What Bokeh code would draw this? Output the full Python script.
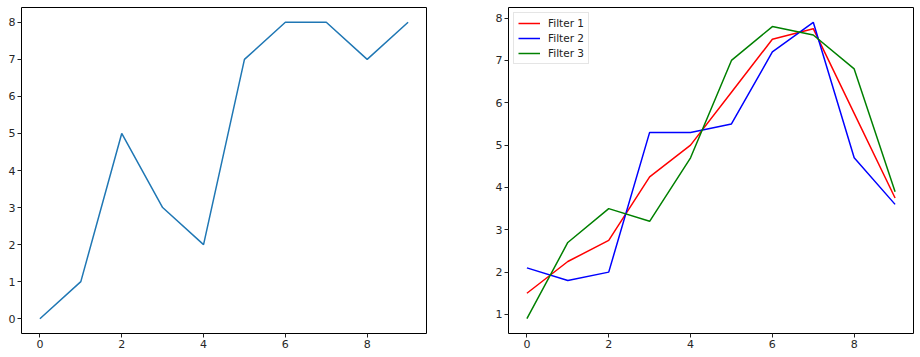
from bokeh.plotting import figure
from bokeh.layouts import row
from bokeh.models import Range1d, FixedTicker, Legend, LegendItem
from bokeh.embed import file_html
from bokeh.resources import INLINE

x_left = list(range(10))
y_left = [0, 1, 5, 3, 2, 7, 8, 8, 7, 8]

x_right = list(range(10))
filter1 = [1.5, 2.25, 2.75, 4.25, 5.0, 6.25, 7.5, 7.75, 5.75, 3.75]
filter2 = [2.1, 1.8, 2.0, 5.3, 5.3, 5.5, 7.2, 7.9, 4.7, 3.6]
filter3 = [0.9, 2.7, 3.5, 3.2, 4.7, 7.0, 7.8, 7.6, 6.8, 3.9]
labels = ["Filter 1", "Filter 2", "Filter 3"]
colors = ["red", "blue", "green"]

x_ticks = [0, 2, 4, 6, 8]
y_ticks_left = [0, 1, 2, 3, 4, 5, 6, 7, 8]
y_ticks_right = [1, 2, 3, 4, 5, 6, 7, 8]


def style(p, yt):
    p.xgrid.visible = False
    p.ygrid.visible = False
    p.outline_line_color = "black"
    p.outline_line_width = 1
    p.xaxis.ticker = FixedTicker(ticks=x_ticks)
    p.yaxis.ticker = FixedTicker(ticks=yt)
    for ax in (p.xaxis[0], p.yaxis[0]):
        ax.axis_line_color = None
        ax.major_tick_out = 4
        ax.major_tick_in = 0
        ax.minor_tick_out = 0
        ax.minor_tick_in = 0
        ax.major_tick_line_color = "#222222"
        ax.major_label_text_font = "DejaVu Sans"
        ax.major_label_text_font_size = "11px"
        ax.major_label_text_color = "#262626"
        ax.major_label_standoff = 2


p1 = figure(frame_width=405, frame_height=326, min_border_left=21, min_border_right=61,
            min_border_top=7, min_border_bottom=24,
            x_range=Range1d(-0.45, 9.45), y_range=Range1d(-0.4, 8.4),
            output_backend="svg", toolbar_location=None)
style(p1, y_ticks_left)
p1.line(x_left, y_left, line_color="#1f77b4", line_width=1.5)

p2 = figure(frame_width=405, frame_height=326, min_border_left=21, min_border_right=7,
            min_border_top=7, min_border_bottom=24,
            x_range=Range1d(-0.45, 9.45), y_range=Range1d(0.55, 8.25),
            output_backend="svg", toolbar_location=None)
style(p2, y_ticks_right)
items = []
for lab, col, ys in zip(labels, colors, [filter1, filter2, filter3]):
    r = p2.line(x_right, ys, line_color=col, line_width=1.5)
    items.append(LegendItem(label=lab, renderers=[r]))
leg = Legend(items=items, location="top_left")
leg.label_text_font = "DejaVu Sans"
leg.label_text_font_size = "10.5px"
leg.label_text_color = "#222222"
leg.border_line_color = "#cccccc"
leg.border_line_width = 1
leg.glyph_width = 22
leg.glyph_height = 12
leg.label_height = 12
leg.spacing = 3
leg.padding = 4
leg.margin = 5
leg.label_standoff = 8
p2.add_layout(leg)

layout = row(p1, p2)
open("out.html", "w").write(file_html(layout, INLINE))
